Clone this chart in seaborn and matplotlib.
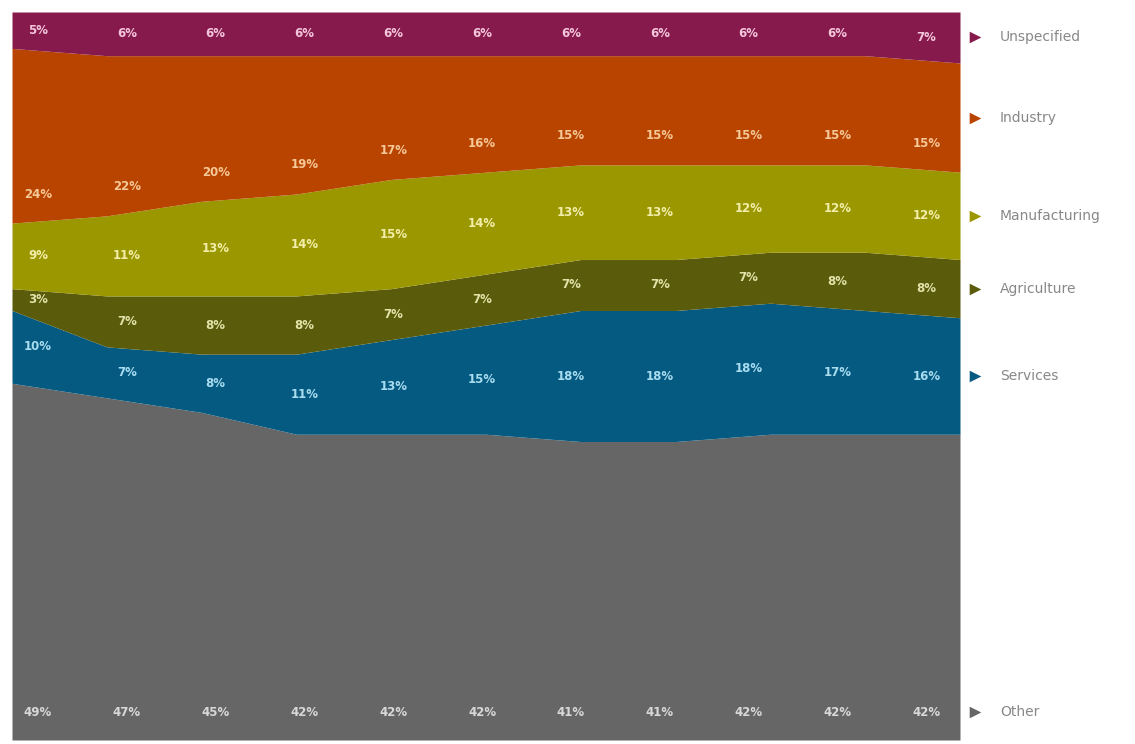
import numpy as np
import matplotlib
matplotlib.use("Agg")
import matplotlib.pyplot as plt
import matplotlib.transforms as mtrans
import seaborn as sns

years = list(range(11))
series_names = ["Other", "Services", "Agriculture", "Manufacturing", "Industry", "Unspecified"]
other = [49, 47, 45, 42, 42, 42, 41, 41, 42, 42, 42]
services = [10, 7, 8, 11, 13, 15, 18, 18, 18, 17, 16]
agriculture = [3, 7, 8, 8, 7, 7, 7, 7, 7, 8, 8]
manufacturing = [9, 11, 13, 14, 15, 14, 13, 13, 12, 12, 12]
industry = [24, 22, 20, 19, 17, 16, 15, 15, 15, 15, 15]
unspecified = [5, 6, 6, 6, 6, 6, 6, 6, 6, 6, 7]
colors = ["#666666", "#055a82", "#5a5c0c", "#9b9700", "#b84400", "#861a4c"]
label_colors = ["#d8d8d8", "#a8dcef", "#e2e2a8", "#f2eeaa", "#f6c898", "#f4c6dc"]

sns.set_theme(style="white")
fig = plt.figure(figsize=(11.35, 7.44), dpi=100)
ax = fig.add_axes([12/1135, 4/744, 948/1135, 728/744])

data = [other, services, agriculture, manufacturing, industry, unspecified]
ax.stackplot(years, *data, colors=colors, linewidth=0)
ax.set_xlim(0, 10)
ax.set_ylim(0, 100)
ax.axis("off")

# label positions inside the plot (labels sit slightly inward of data points)
label_x = [0.274 + 0.937 * i for i in years]

arr = np.array(data, dtype=float)
cum = np.cumsum(arr, axis=0)
for s in range(len(data)):
    for i in years:
        v = arr[s, i]
        lo = cum[s, i] - v
        if s == 0:
            y = 3.8
        elif s == 4:
            y = lo + 4.0
        else:
            y = lo + v / 2
        ax.text(label_x[i], y, f"{int(v)}%", ha="center", va="center", fontsize=8.5,
                fontweight="bold", color=label_colors[s])

trans = mtrans.blended_transform_factory(ax.transAxes, ax.transData)
for s in range(len(data)):
    v = arr[s, -1]
    lo = cum[s, -1] - v
    y = 3.8 if s == 0 else lo + v / 2
    ax.scatter([1.016], [y], marker=">", s=70, color=colors[s], transform=trans,
               clip_on=False, linewidths=0)
    ax.text(1.042, y, series_names[s], transform=trans, ha="left", va="center",
            fontsize=10, color="#888888")

fig.savefig("out.png", dpi=100)
